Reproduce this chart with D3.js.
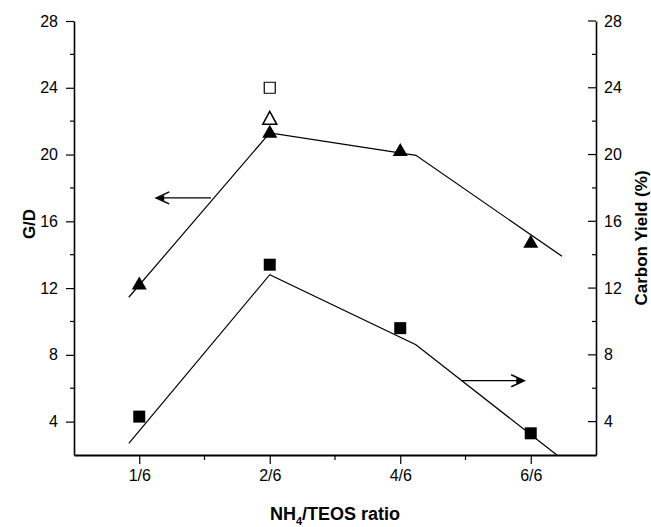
<!DOCTYPE html>
<html>
<head>
<meta charset="utf-8">
<script src="https://cdn.jsdelivr.net/npm/d3@7/dist/d3.min.js"></script>
<style>
  html, body { margin: 0; padding: 0; background: #fff; }
  svg { display: block; font-family: "Liberation Sans", Arial, sans-serif; }
</style>
</head>
<body>
<svg id="chart" width="651" height="527"></svg>
<script>
// ---------------- data ----------------
const categories = ["1/6", "2/6", "4/6", "6/6"];
const gdValues = [12.3, 21.4, 20.3, 14.8];          // filled triangles (left axis, G/D)
const yieldValues = [4.3, 13.4, 9.6, 3.3];          // filled squares (right axis, Carbon Yield)
const gdOpenIndex = [1];
const gdOpenValues = [22.2];                        // open triangle
const yieldOpenIndex = [1];
const yieldOpenValues = [24.0];                     // open square
// trend (guide) lines, x in category-index units
const gdTrendX = [-0.08, 1.0, 2.12, 3.24];
const gdTrendY = [11.45, 21.3, 19.95, 13.9];
const yieldTrendX = [-0.08, 1.0, 2.12, 3.2];
const yieldTrendY = [2.7, 12.8, 8.6, 2.0];
// arrows (category-index units / axis units)
const arrowLeft = { x0: 0.55, x1: 0.13, y: 17.4 };
const arrowRight = { x0: 2.47, x1: 2.95, y: 6.45 };
const yTicks = [4, 8, 12, 16, 20, 24, 28];
const yMinorTicks = [6, 10, 14, 18, 22, 26];
const xMinorTicks = [0.5, 1.5, 2.5];

// ---------------- layout ----------------
const svg = d3.select("#chart");
const pL = 74, pR = 596, pT = 21, pB = 455;

const x = d3.scaleLinear().domain([-0.5, 3.5]).range([pL, pR]);
const yL = d3.scaleLinear().domain([2, 28]).range([pB, pT]);
const yR = d3.scaleLinear().domain([2, 28]).range([pB, pT]);

// ---------------- axes ----------------
const fontTick = 16;

// left axis (ticks outward)
const gL = svg.append("g").attr("transform", `translate(${pL},0)`)
  .call(d3.axisLeft(yL).tickValues(yTicks).tickSize(8).tickPadding(8).tickSizeOuter(0));
gL.append("g").selectAll("line").data(yMinorTicks).join("line")
  .attr("x1", -4).attr("x2", 0).attr("y1", d => yL(d)).attr("y2", d => yL(d))
  .attr("stroke", "#000").attr("stroke-width", 1.2);

// right axis (ticks inward, labels outside)
const gR = svg.append("g").attr("transform", `translate(${pR},0)`)
  .call(d3.axisRight(yR).tickValues(yTicks).tickSizeOuter(0).tickSize(0).tickPadding(8));
gR.append("g").selectAll("line").data(yTicks).join("line")
  .attr("x1", -8).attr("x2", 0).attr("y1", d => yR(d)).attr("y2", d => yR(d))
  .attr("stroke", "#000").attr("stroke-width", 1.2);
gR.append("g").selectAll("line").data(yMinorTicks).join("line")
  .attr("x1", -4).attr("x2", 0).attr("y1", d => yR(d)).attr("y2", d => yR(d))
  .attr("stroke", "#000").attr("stroke-width", 1.2);

// bottom axis
const gB = svg.append("g").attr("transform", `translate(0,${pB})`)
  .call(d3.axisBottom(x).tickValues([0, 1, 2, 3]).tickFormat(i => categories[i])
    .tickSize(9).tickPadding(6).tickSizeOuter(0));
gB.append("g").selectAll("line").data(xMinorTicks).join("line")
  .attr("x1", d => x(d)).attr("x2", d => x(d)).attr("y1", 0).attr("y2", 5)
  .attr("stroke", "#000").attr("stroke-width", 1.2);

[gL, gR, gB].forEach(g => {
  g.selectAll(".domain").attr("stroke", "#000");
  g.selectAll(".tick line").attr("stroke", "#000").attr("stroke-width", 1.2);
  g.selectAll("text").attr("font-size", fontTick).attr("fill", "#000")
    .attr("font-family", '"Liberation Sans", Arial, sans-serif');
});
gL.select(".domain").attr("stroke-width", 1.6);
gR.select(".domain").attr("stroke-width", 1.6);
gB.select(".domain").attr("stroke-width", 2.2);

// ---------------- axis titles ----------------
svg.append("text").attr("transform", `translate(35,${(pT + pB) / 2 - 14}) rotate(-90)`)
  .attr("text-anchor", "middle").attr("font-size", 17).attr("font-weight", "bold").text("G/D");
svg.append("text").attr("transform", `translate(647,${(pT + pB) / 2}) rotate(-90)`)
  .attr("text-anchor", "middle").attr("font-size", 17).attr("font-weight", "bold").text("Carbon Yield (%)");
const xt = svg.append("text").attr("x", (pL + pR) / 2).attr("y", 520)
  .attr("text-anchor", "middle").attr("font-size", 18).attr("font-weight", "bold");
xt.append("tspan").text("NH");
xt.append("tspan").attr("font-size", 11).attr("dy", 5).text("4");
xt.append("tspan").attr("dy", -5).text("/TEOS ratio");

// ---------------- trend lines ----------------
const line = d3.line();
svg.append("path")
  .attr("d", line(gdTrendX.map((d, i) => [x(d), yL(gdTrendY[i])])))
  .attr("fill", "none").attr("stroke", "#000").attr("stroke-width", 1.2);
svg.append("path")
  .attr("d", line(yieldTrendX.map((d, i) => [x(d), yR(yieldTrendY[i])])))
  .attr("fill", "none").attr("stroke", "#000").attr("stroke-width", 1.2);

// ---------------- markers ----------------
const triPath = (w, h) => `M0,${-h / 2}L${w / 2},${h / 2}L${-w / 2},${h / 2}Z`;
const sq = s => `M${-s / 2},${-s / 2}h${s}v${s}h${-s}Z`;

// open square
svg.append("g").selectAll("path").data(yieldOpenValues).join("path")
  .attr("d", sq(11))
  .attr("transform", (d, i) => `translate(${x(yieldOpenIndex[i])},${yR(d)})`)
  .attr("fill", "#fff").attr("stroke", "#000").attr("stroke-width", 1.2);
// open triangle
svg.append("g").selectAll("path").data(gdOpenValues).join("path")
  .attr("d", triPath(14, 13))
  .attr("transform", (d, i) => `translate(${x(gdOpenIndex[i])},${yL(d)})`)
  .attr("fill", "#fff").attr("stroke", "#000").attr("stroke-width", 1.5);
// filled triangles
svg.append("g").selectAll("path").data(gdValues).join("path")
  .attr("d", triPath(15, 13))
  .attr("transform", (d, i) => `translate(${x(i)},${yL(d)})`)
  .attr("fill", "#000");
// filled squares
svg.append("g").selectAll("path").data(yieldValues).join("path")
  .attr("d", sq(12))
  .attr("transform", (d, i) => `translate(${x(i)},${yR(d)})`)
  .attr("fill", "#000");

// ---------------- arrows ----------------
function arrow(a, yScale) {
  const x0 = x(a.x0), x1 = x(a.x1), yy = yScale(a.y);
  const dir = x1 > x0 ? 1 : -1;
  const g = svg.append("g");
  g.append("line").attr("x1", x0).attr("x2", x1 - dir * 2).attr("y1", yy).attr("y2", yy)
    .attr("stroke", "#000").attr("stroke-width", 1.3);
  g.append("path")
    .attr("d", `M${x1 - dir * 13},${yy - 6}L${x1},${yy}L${x1 - dir * 13},${yy + 6}`)
    .attr("fill", "none").attr("stroke", "#000").attr("stroke-width", 1.5);
  g.append("path")
    .attr("d", `M${x1},${yy}L${x1 - dir * 8},${yy - 3}L${x1 - dir * 8},${yy + 3}Z`)
    .attr("fill", "#000");
}
arrow(arrowLeft, yL);
arrow(arrowRight, yR);
</script>
</body>
</html>
